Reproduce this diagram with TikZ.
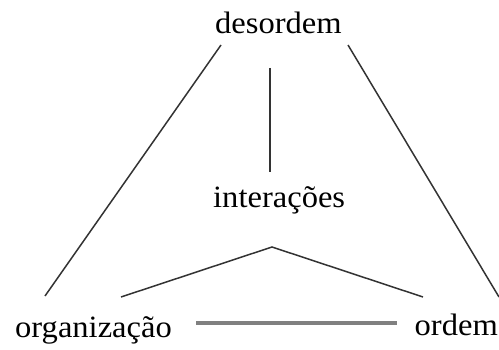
\documentclass[tikz,border=0pt]{standalone}
\usepackage{fontspec}
\setmainfont[FakeStretch=1.05]{Liberation Serif}
\begin{document}
\begin{tikzpicture}[x=1pt,y=1pt,
  lbl/.style={inner sep=0pt, anchor=base west, font=\fontsize{31}{31}\selectfont},
  thin line/.style={draw=black!80, line width=1.5pt},
  thick line/.style={draw=black!50, line width=4pt}]
\useasboundingbox (0,0) rectangle (499,349);
\node[lbl] (des) at (215,316) {desordem};
\node[lbl] (int) at (213,142) {interações};
\node[lbl] (org) at (15,12) {organização};
\node[lbl] (ord) at (414.5,14) {ordem};
\coordinate (l1) at (221,304);
\coordinate (l2) at (45,53);
\coordinate (r1) at (348,304);
\coordinate (r2) at (499,52);
\coordinate (v1) at (270,281);
\coordinate (v2) at (270,177);
\coordinate (c1) at (121,52);
\coordinate (c2) at (272,102);
\coordinate (c3) at (423,52);
\coordinate (h1) at (196,26);
\coordinate (h2) at (397,26);
\draw[thin line] (l1) -- (l2);
\draw[thin line] (r1) -- (r2);
\draw[thin line] (v1) -- (v2);
\draw[thin line] (c1) -- (c2) -- (c3);
\draw[thick line] (h1) -- (h2);
\end{tikzpicture}
\end{document}
